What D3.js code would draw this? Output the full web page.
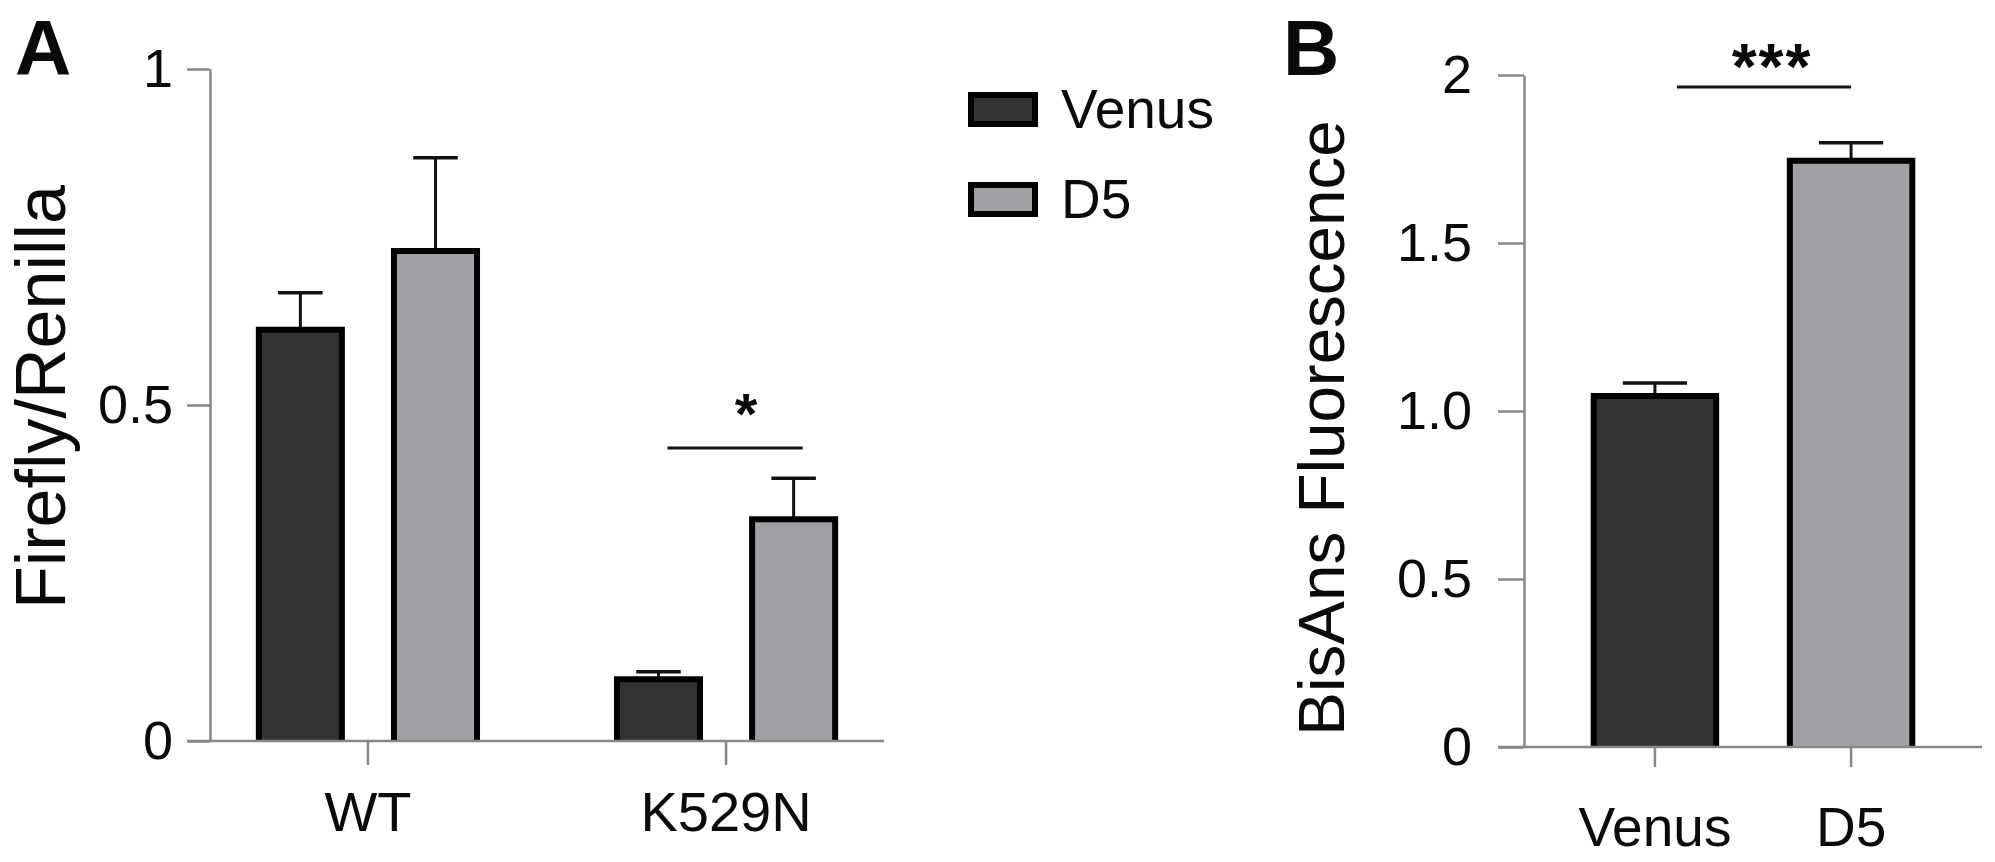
<!DOCTYPE html>
<html>
<head>
<meta charset="utf-8">
<script src="https://cdn.jsdelivr.net/npm/d3@7/dist/d3.min.js"></script>
<style>
  html, body { margin: 0; padding: 0; background: #fff; }
  svg { display: block; }
  text { font-family: "Liberation Sans", Arial, Helvetica, sans-serif; fill: #0a0a0a; }
</style>
</head>
<body>
<svg id="chart" width="1995" height="862"></svg>
<script>
// ---------- Data ----------
const groupsA = ["WT", "K529N"];
const seriesA = ["Venus", "D5"];
const venusA = [0.612, 0.092];
const d5A = [0.729, 0.330];
const venusErrA = [0.055, 0.011];
const d5ErrA = [0.139, 0.061];
const ticksA = [0, 0.5, 1];
const tickLabelsA = ["0", "0.5", "1"];
const sigA = { group: "K529N", value: 0.436, label: "*" };

const catsB = ["Venus", "D5"];
const valuesB = [1.045, 1.745];
const errB = [0.038, 0.053];
const ticksB = [0, 0.5, 1, 1.5, 2];
const tickLabelsB = ["0", "0.5", "1.0", "1.5", "2"];
const sigB = { value: 1.964, label: "***" };

const colors = { Venus: "#333333", D5: "#a1a1a5" };

// ---------- Layout ----------
const svg = d3.select("#chart");
const axisColor = "#878787";
const axisW = 2.5;
const barStroke = 6;
const tickLen = 24;

function barPath(x, w, yTop, yBase) {
  const h = barStroke / 2;
  return `M${x + h},${yBase} V${yTop} H${x + w - h} V${yBase}`;
}

function styleAxis(g) {
  g.selectAll("path.domain").attr("stroke", axisColor).attr("stroke-width", axisW);
  g.selectAll(".tick line").attr("stroke", axisColor).attr("stroke-width", axisW);
  g.selectAll(".tick text").attr("font-size", 54).attr("fill", "#0a0a0a")
    .attr("font-family", '"Liberation Sans", Arial, sans-serif');
}

// ---------- Panel A ----------
const yA = d3.scaleLinear().domain([0, 1]).range([741, 69]);
const xA = d3.scaleBand().domain(groupsA).range([210, 884]).paddingInner(0.374).paddingOuter(0.128);
const xsA = d3.scaleBand().domain(seriesA).range([0, xA.bandwidth()]).paddingInner(0.341).paddingOuter(0);
const dataA = groupsA.map((g, i) => ({
  group: g,
  bars: [
    { s: "Venus", v: venusA[i], e: venusErrA[i] },
    { s: "D5", v: d5A[i], e: d5ErrA[i] }
  ]
}));

const gA = svg.append("g");
dataA.forEach(d => {
  d.bars.forEach(b => {
    const x = xA(d.group) + xsA(b.s);
    const w = xsA.bandwidth();
    const cx = x + w / 2;
    gA.append("line").attr("x1", cx).attr("x2", cx)
      .attr("y1", yA(b.v)).attr("y2", yA(b.v + b.e))
      .attr("stroke", "#111").attr("stroke-width", 3);
    gA.append("line").attr("x1", cx - w / 4).attr("x2", cx + w / 4)
      .attr("y1", yA(b.v + b.e)).attr("y2", yA(b.v + b.e))
      .attr("stroke", "#111").attr("stroke-width", 3.5);
    gA.append("path").attr("d", barPath(x, w, yA(b.v), yA(0)))
      .attr("fill", colors[b.s]).attr("stroke", "#000").attr("stroke-width", barStroke)
      .attr("stroke-linejoin", "miter");
  });
});
const yAxA = gA.append("g").attr("transform", `translate(${xA.range()[0]},0)`)
  .call(d3.axisLeft(yA).tickValues(ticksA).tickFormat((d, i) => tickLabelsA[i])
    .tickSize(tickLen - 1).tickSizeOuter(0).tickPadding(14));
styleAxis(yAxA);
const xAxA = gA.append("g").attr("transform", `translate(0,${yA(0)})`)
  .call(d3.axisBottom(xA).tickSize(tickLen).tickSizeOuter(0).tickPadding(26));
styleAxis(xAxA);
xAxA.select("path.domain").remove();
xAxA.selectAll(".tick text").attr("font-size", 56);
gA.append("line").attr("x1", xA.range()[0] - tickLen + 1).attr("x2", xA.range()[1])
  .attr("y1", yA(0)).attr("y2", yA(0)).attr("stroke", axisColor).attr("stroke-width", axisW);
gA.append("text").attr("transform", `translate(65,397) rotate(-90)`)
  .attr("text-anchor", "middle").attr("font-size", 70).text("Firefly/Renilla");
{
  const x0 = xA(sigA.group) + xsA("Venus") + xsA.bandwidth() / 2 + 9;
  const x1 = xA(sigA.group) + xsA("D5") + xsA.bandwidth() / 2 + 9;
  gA.append("line").attr("x1", x0).attr("x2", x1).attr("y1", yA(sigA.value)).attr("y2", yA(sigA.value))
    .attr("stroke", "#111").attr("stroke-width", 3);
  gA.append("text").attr("x", (x0 + x1) / 2 + 11).attr("y", yA(sigA.value) - 14)
    .attr("text-anchor", "middle").attr("font-size", 58).attr("font-weight", "bold").text(sigA.label);
}
svg.append("text").attr("x", 15).attr("y", 75).attr("font-size", 78).attr("font-weight", "bold").text("A");

const legend = svg.append("g");
seriesA.forEach((s, i) => {
  const ly = 92 + i * 90;
  legend.append("rect").attr("x", 971).attr("y", ly + 3).attr("width", 64).attr("height", 29)
    .attr("fill", colors[s]).attr("stroke", "#000").attr("stroke-width", barStroke);
  legend.append("text").attr("x", 1061).attr("y", ly + 36).attr("font-size", 55).text(s);
});

// ---------- Panel B ----------
const yB = d3.scaleLinear().domain([0, 2]).range([747, 75]);
const xB = d3.scaleBand().domain(catsB).range([1524, 1982]).paddingInner(0.345).paddingOuter(0.34);
const gB = svg.append("g");
catsB.forEach((c, i) => {
  const x = xB(c), w = xB.bandwidth(), cx = x + w / 2;
  const v = valuesB[i], e = errB[i];
  gB.append("line").attr("x1", cx).attr("x2", cx).attr("y1", yB(v)).attr("y2", yB(v + e))
    .attr("stroke", "#111").attr("stroke-width", 3);
  gB.append("line").attr("x1", cx - w / 4).attr("x2", cx + w / 4).attr("y1", yB(v + e)).attr("y2", yB(v + e))
    .attr("stroke", "#111").attr("stroke-width", 3.5);
  gB.append("path").attr("d", barPath(x, w, yB(v), yB(0)))
    .attr("fill", colors[c]).attr("stroke", "#000").attr("stroke-width", barStroke);
});
const yAxB = gB.append("g").attr("transform", `translate(${xB.range()[0]},0)`)
  .call(d3.axisLeft(yB).tickValues(ticksB).tickFormat((d, i) => tickLabelsB[i])
    .tickSize(tickLen + 2).tickSizeOuter(0).tickPadding(26));
styleAxis(yAxB);
const xAxB = gB.append("g").attr("transform", `translate(0,${yB(0)})`)
  .call(d3.axisBottom(xB).tickSize(20).tickSizeOuter(0).tickPadding(40));
styleAxis(xAxB);
xAxB.select("path.domain").remove();
xAxB.selectAll(".tick text").attr("font-size", 55);
gB.append("line").attr("x1", xB.range()[0] - tickLen - 2).attr("x2", xB.range()[1])
  .attr("y1", yB(0)).attr("y2", yB(0)).attr("stroke", axisColor).attr("stroke-width", axisW);
gB.append("text").attr("transform", `translate(1344,428) rotate(-90)`)
  .attr("text-anchor", "middle").attr("font-size", 65.5).text("BisAns Fluorescence");
{
  const x0 = xB("Venus") + xB.bandwidth() / 2 + 22;
  const x1 = xB("D5") + xB.bandwidth() / 2;
  gB.append("line").attr("x1", x0).attr("x2", x1).attr("y1", yB(sigB.value)).attr("y2", yB(sigB.value))
    .attr("stroke", "#111").attr("stroke-width", 3);
  gB.append("text").attr("x", (x0 + x1) / 2 + 8).attr("y", yB(sigB.value) + 2)
    .attr("text-anchor", "middle").attr("font-size", 64).attr("font-weight", "bold")
    .attr("letter-spacing", 2).text(sigB.label);
}
svg.append("text").attr("x", 1283).attr("y", 75).attr("font-size", 78).attr("font-weight", "bold").text("B");
</script>
</body>
</html>
